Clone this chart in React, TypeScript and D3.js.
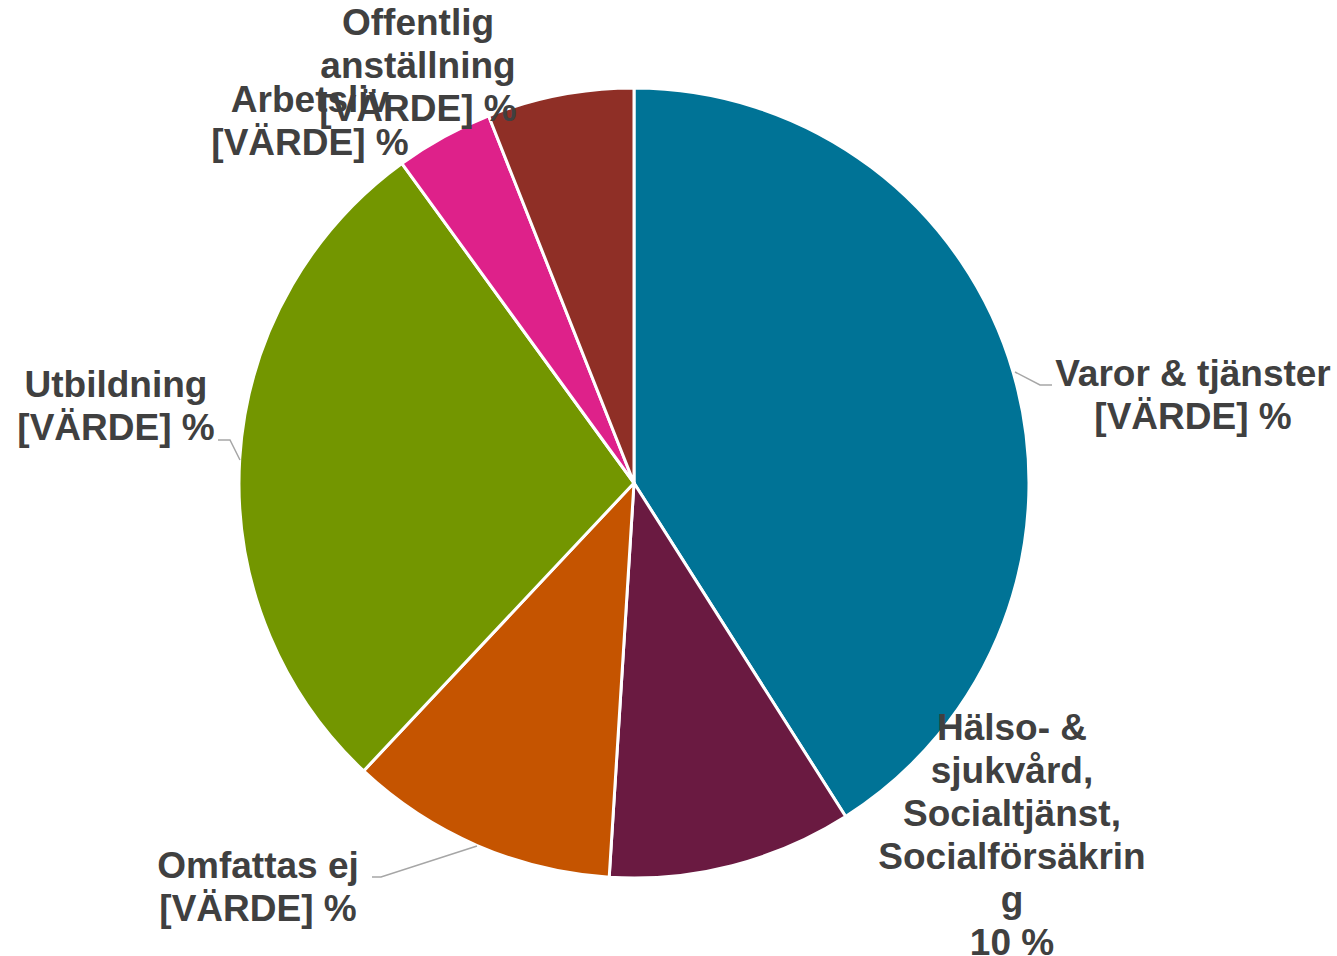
import React from "react";
import * as d3 from "d3";

const categories = [
  "Varor & tjänster",
  "Hälso- & sjukvård, Socialtjänst, Socialförsäkring",
  "Omfattas ej",
  "Utbildning",
  "Arbetsliv",
  "Offentlig anställning",
];
const values = [0.41, 0.10, 0.11, 0.28, 0.04, 0.06];
const colors = ["#007396", "#6a1a41", "#c55400", "#739600", "#de218a", "#8f2f26"];
const labelLines = [
  ["Varor & tjänster", "[VÄRDE] %"],
  ["Hälso- &", "sjukvård,", "Socialtjänst,", "Socialförsäkrin", "g", "10 %"],
  ["Omfattas ej", "[VÄRDE] %"],
  ["Utbildning", "[VÄRDE] %"],
  ["Arbetsliv", "[VÄRDE] %"],
  ["Offentlig", "anställning", "[VÄRDE] %"],
];
// label layout (center x, first baseline y), in page coords
const labelPos: [number, number][] = [
  [1193, 386],
  [1012, 740],
  [258, 878],
  [116, 397],
  [310, 112],
  [418, 35],
];
// leader lines (page coords)
const leaders: ([number, number][] | null)[] = [
  [[1015, 372], [1040, 385], [1052, 385]],
  null,
  [[477, 846], [381, 877], [372, 877]],
  [[240, 460], [230, 440], [218, 440]],
  null,
  null,
];

export default function App() {
  const W = 1337, H = 956;
  const cx = 634, cy = 483, r = 395;
  const pie = d3.pie<number>().sort(null).value((d) => d);
  const arcs = pie(values);
  const arc = d3.arc<d3.PieArcDatum<number>>().innerRadius(0).outerRadius(r);
  const line = d3.line();
  const fs = 37;
  const lh = 43;
  return (
    <svg
      width={W}
      height={H}
      style={{ position: "absolute", left: 0, top: 0 }}
      fontFamily="'Liberation Sans', Arial, sans-serif"
    >
      <rect width={W} height={H} fill="#ffffff" />
      <g transform={`translate(${cx},${cy})`}>
        {arcs.map((a, i) => (
          <path key={categories[i]} d={arc(a) || ""} fill={colors[i]} stroke="#ffffff" strokeWidth={3} strokeLinejoin="round" />
        ))}
      </g>
      {leaders.map((l, i) =>
        l ? <path key={"l" + i} d={line(l) || ""} fill="none" stroke="#a6a6a6" strokeWidth={1.5} /> : null
      )}
      {labelLines.map((lines, i) => (
        <text
          key={"t" + i}
          x={labelPos[i][0]}
          y={labelPos[i][1]}
          textAnchor="middle"
          fontSize={fs}
          fontWeight="bold"
          fill="#404040"
        >
          {lines.map((s, j) => (
            <tspan key={j} x={labelPos[i][0]} y={labelPos[i][1] + j * lh}>
              {s}
            </tspan>
          ))}
        </text>
      ))}
    </svg>
  );
}
